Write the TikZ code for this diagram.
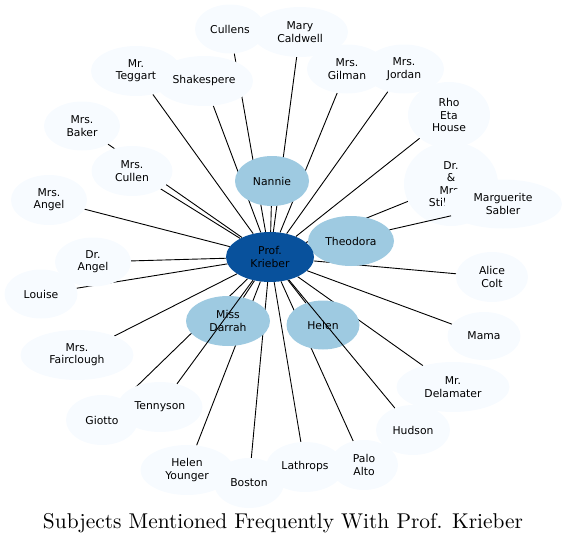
\documentclass[tikz,border=0pt]{standalone}
\usepackage{fontspec}
\newfontfamily\labfont{DejaVu Sans}
\usetikzlibrary{shapes.geometric,backgrounds,calc}
\definecolor{lightb}{HTML}{F7FBFF}
\definecolor{midb}{HTML}{9ECAE1}
\definecolor{darkb}{HTML}{08519C}
\tikzset{
  gnode/.style={ellipse, inner sep=0pt, align=center, text=black,
    font=\labfont\fontsize{10.8}{12.3}\selectfont},
  lnode/.style={gnode, fill=lightb},
  mnode/.style={gnode, fill=midb},
  cnode/.style={gnode, fill=darkb},
  edge/.style={draw=black, line width=0.9pt},
  sz/.style 2 args={minimum width=#1pt, minimum height=#2pt}
}
\begin{document}
\begin{tikzpicture}[x=1pt,y=-1pt]
\useasboundingbox (0,0) rectangle (566,544);
% light nodes
\node[lnode,sz={70}{49}] (cullens) at (230,29) {Cullens};
\node[lnode,sz={96}{50}] (caldwell) at (300,32) {Mary\\Caldwell};
\node[lnode,sz={90}{50}] (teggart) at (136,71) {Mr.\\Teggart};
\node[lnode,sz={98}{50}] (shakespere) at (204,81) {Shakespere};
\node[lnode,sz={80}{49}] (gilman) at (347,69) {Mrs.\\Gilman};
\node[lnode,sz={80}{49}] (jordan) at (404,69) {Mrs.\\Jordan};
\node[lnode,sz={82}{66}] (rho) at (449,115) {Rho\\Eta\\House};
\node[lnode,sz={76}{49}] (baker) at (82,126) {Mrs.\\Baker};
\node[lnode,sz={81}{50}] (cullen) at (132,171) {Mrs.\\Cullen};
\node[lnode,sz={94}{84}] (dms) at (451,184) {Dr.\\\&\\Mrs.\\Stillman};
\node[lnode,sz={118}{49}] (sabler) at (503,204) {Marguerite\\Sabler};
\node[lnode,sz={76}{50}] (mrsangel) at (49,200) {Mrs.\\Angel};
\node[lnode,sz={76}{49}] (drangel) at (93,262) {Dr.\\Angel};
\node[lnode,sz={73}{49}] (louise) at (41,294) {Louise};
\node[lnode,sz={72}{50}] (alice) at (492,277) {Alice\\Colt};
\node[lnode,sz={113}{50}] (fairclough) at (77,355) {Mrs.\\Fairclough};
\node[lnode,sz={73}{48}] (mama) at (484,336) {Mama};
\node[lnode,sz={113}{50}] (delamater) at (453,387) {Mr.\\Delamater};
\node[lnode,sz={72}{50}] (giotto) at (102,420) {Giotto};
\node[lnode,sz={85}{50}] (tennyson) at (160,407) {Tennyson};
\node[lnode,sz={74}{50}] (hudson) at (413,430) {Hudson};
\node[lnode,sz={93}{50}] (hyounger) at (187,470) {Helen\\Younger};
\node[lnode,sz={70}{50}] (boston) at (249,483) {Boston};
\node[lnode,sz={78}{50}] (lathrops) at (305,467) {Lathrops};
\node[lnode,sz={68}{50}] (paloalto) at (364,465) {Palo\\Alto};
% mid nodes
\node[mnode,sz={74}{50}] (nannie) at (272,181) {Nannie};
\node[mnode,sz={86}{50}] (theodora) at (351,241) {Theodora};
\node[mnode,sz={84}{50}] (darrah) at (228,321) {Miss\\Darrah};
\node[mnode,sz={73}{49}] (helen) at (323,325) {Helen};
% centre
\node[cnode,sz={88}{50}] (krieber) at (270,257) {Prof.\\Krieber};
% hidden edges
\begin{pgfonlayer}{background}
\foreach \t in {cullens,caldwell,teggart,shakespere,gilman,jordan,rho,baker,cullen,dms,
  mrsangel,drangel,louise,alice,fairclough,mama,delamater,giotto,hyounger,boston,
  lathrops,paloalto,nannie,theodora,darrah,helen}
  \draw[edge] (krieber) -- (\t);
\end{pgfonlayer}
% edges on top
\draw[edge] (krieber) -- (tennyson);
\draw[edge] (krieber) -- (hudson);
\coordinate (sabout) at ($(krieber.center)!0.513!(sabler.center)$);
\draw[edge] (sabout) -- (sabler);
% caption
\node[anchor=base, inner sep=0pt] (caption) at (283,528)
  {\resizebox{480pt}{!}{Subjects Mentioned Frequently With Prof. Krieber}};
\end{tikzpicture}
\end{document}
